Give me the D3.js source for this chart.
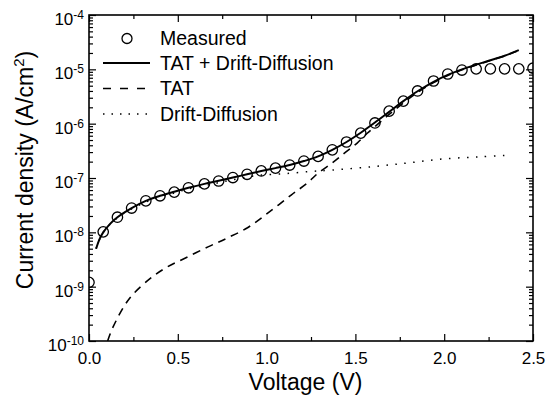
<!DOCTYPE html>
<html>
<head>
<meta charset="utf-8">
<script src="https://cdn.jsdelivr.net/npm/d3@7"></script>
<style>
  body { margin: 0; background: #fff; }
  svg { display: block; font-family: "Liberation Sans", Arial, sans-serif; }
</style>
</head>
<body>
<svg id="chart" width="547" height="398"></svg>
<script>
// measured J-V points
const voltage = [0.00, 0.08, 0.16, 0.24, 0.32, 0.40, 0.48, 0.56, 0.65, 0.73, 0.81, 0.89, 0.97, 1.05, 1.13, 1.21,
                 1.29, 1.37, 1.45, 1.53, 1.61, 1.69, 1.77, 1.85, 1.94, 2.02, 2.10, 2.18, 2.26, 2.34, 2.42, 2.50];
const measured = [1.2e-9, 1.02e-8, 1.9e-8, 2.8e-8, 3.8e-8, 4.7e-8, 5.5e-8, 6.6e-8, 7.8e-8, 8.8e-8, 1.02e-7, 1.17e-7,
                  1.35e-7, 1.52e-7, 1.73e-7, 2.05e-7, 2.5e-7, 3.3e-7, 4.6e-7, 6.7e-7, 1.03e-6, 1.7e-6, 2.6e-6,
                  4.0e-6, 6.1e-6, 8.2e-6, 9.7e-6, 1.02e-5, 1.02e-5, 1.02e-5, 1.02e-5, 1.05e-5];

// TAT + Drift-Diffusion fit
const fitV = [0.04, 0.06, 0.08, 0.12, 0.16, 0.24, 0.32, 0.40, 0.48, 0.56, 0.65, 0.73, 0.81, 0.89, 0.97, 1.05, 1.13,
              1.21, 1.29, 1.37, 1.45, 1.53, 1.61, 1.69, 1.77, 1.85, 1.94, 2.02, 2.10, 2.18, 2.26, 2.34, 2.42];
const fitJ = [5.0e-9, 7.6e-9, 1.0e-8, 1.45e-8, 1.9e-8, 2.8e-8, 3.8e-8, 4.7e-8, 5.6e-8, 6.6e-8, 7.8e-8, 8.9e-8,
              1.02e-7, 1.17e-7, 1.34e-7, 1.52e-7, 1.74e-7, 2.05e-7, 2.5e-7, 3.3e-7, 4.6e-7, 6.8e-7, 1.05e-6,
              1.65e-6, 2.6e-6, 3.95e-6, 5.9e-6, 7.9e-6, 1.0e-5, 1.22e-5, 1.47e-5, 1.78e-5, 2.25e-5];

// TAT only
const tatV = [0.105, 0.135, 0.23, 0.355, 0.44, 0.52, 0.67, 0.78, 0.895, 1.01, 1.14, 1.23, 1.29, 1.37, 1.44, 1.51,
              1.565, 1.61, 1.69, 1.77, 1.85, 1.94, 2.02, 2.10, 2.18, 2.26, 2.34, 2.42];
const tatJ = [1.0e-10, 1.8e-10, 6.2e-10, 1.5e-9, 2.3e-9, 3.1e-9, 5.4e-9, 7.9e-9, 1.23e-8, 2.3e-8, 4.9e-8, 8.1e-8,
              1.23e-7, 1.9e-7, 2.9e-7, 4.4e-7, 6.6e-7, 8.8e-7, 1.48e-6, 2.4e-6, 3.75e-6, 5.7e-6, 7.7e-6, 9.8e-6,
              1.2e-5, 1.45e-5, 1.76e-5, 2.23e-5];

// Drift-Diffusion only
const ddV = [0.04, 0.08, 0.16, 0.24, 0.32, 0.40, 0.48, 0.56, 0.65, 0.73, 0.81, 0.89, 0.97, 1.10, 1.25, 1.37, 1.60,
             1.80, 2.00, 2.20, 2.38];
const ddJ = [5.0e-9, 1.0e-8, 1.85e-8, 2.7e-8, 3.6e-8, 4.5e-8, 5.3e-8, 6.3e-8, 7.2e-8, 8.2e-8, 9.3e-8, 1.04e-7,
             1.13e-7, 1.2e-7, 1.32e-7, 1.4e-7, 1.62e-7, 1.9e-7, 2.25e-7, 2.45e-7, 2.65e-7];

const xMajor = [0, 0.5, 1.0, 1.5, 2.0, 2.5];
const xMinor = [0.25, 0.75, 1.25, 1.75, 2.25];
const yExponents = [-10, -9, -8, -7, -6, -5, -4];

const legendItems = ["Measured", "TAT + Drift-Diffusion", "TAT", "Drift-Diffusion"];

const svg = d3.select("#chart");
const margin = {top: 15, right: 14, bottom: 57, left: 89};
const W = 547, H = 398;
const plotW = W - margin.left - margin.right;
const plotH = H - margin.top - margin.bottom;

const x = d3.scaleLinear().domain([0, 2.5]).range([0, plotW]);
const y = d3.scaleLog().domain([1e-10, 1e-4]).range([plotH, 0]);

const g = svg.append("g").attr("transform", `translate(${margin.left},${margin.top})`);

svg.append("defs").append("clipPath").attr("id", "clip")
  .append("rect").attr("width", plotW).attr("height", plotH);

// minor log ticks (2..9 in each decade)
const yMinor = y.ticks().filter(v => Math.abs(Math.log10(v) - Math.round(Math.log10(v))) > 1e-6);
const yMajorVals = yExponents.map(e => Math.pow(10, e));

function styleAxis(sel) {
  sel.select(".domain").remove();
  sel.selectAll("line").attr("stroke", "#000").attr("stroke-width", 1.2);
}

// bottom
g.append("g").attr("transform", `translate(0,${plotH})`)
  .call(d3.axisBottom(x).tickValues(xMajor).tickSizeInner(-7).tickSizeOuter(0).tickPadding(11)
    .tickFormat(d3.format(".1f")))
  .call(styleAxis)
  .call(a => a.selectAll("text").attr("font-size", 17).attr("fill", "#000")
    .attr("font-family", "Liberation Sans, Arial, sans-serif"));
g.append("g").attr("transform", `translate(0,${plotH})`)
  .call(d3.axisBottom(x).tickValues(xMinor).tickSizeInner(-4).tickSizeOuter(0).tickFormat(""))
  .call(styleAxis);

// top
g.append("g")
  .call(d3.axisTop(x).tickValues(xMajor).tickSizeInner(-7).tickSizeOuter(0).tickFormat(""))
  .call(styleAxis);
g.append("g")
  .call(d3.axisTop(x).tickValues(xMinor).tickSizeInner(-4).tickSizeOuter(0).tickFormat(""))
  .call(styleAxis);

// left
g.append("g")
  .call(d3.axisLeft(y).tickValues(yMajorVals).tickSizeInner(-7).tickSizeOuter(0).tickFormat(""))
  .call(styleAxis);
g.append("g")
  .call(d3.axisLeft(y).tickValues(yMinor).tickSizeInner(-4).tickSizeOuter(0).tickFormat(""))
  .call(styleAxis);

// right
g.append("g").attr("transform", `translate(${plotW},0)`)
  .call(d3.axisRight(y).tickValues(yMajorVals).tickSizeInner(-7).tickSizeOuter(0).tickFormat(""))
  .call(styleAxis);
g.append("g").attr("transform", `translate(${plotW},0)`)
  .call(d3.axisRight(y).tickValues(yMinor).tickSizeInner(-4).tickSizeOuter(0).tickFormat(""))
  .call(styleAxis);

// y tick labels 10^n
yExponents.forEach(e => {
  const t = g.append("text")
    .attr("x", -5)
    .attr("y", y(Math.pow(10, e)) + 10)
    .attr("text-anchor", "end")
    .attr("font-size", 17)
    .attr("fill", "#000");
  t.append("tspan").text("10");
  t.append("tspan").attr("font-size", 12).attr("dy", -6).text(String(e));
});

// frame
g.append("rect").attr("width", plotW).attr("height", plotH)
  .attr("fill", "none").attr("stroke", "#000").attr("stroke-width", 1.6);

// curves
const line = d3.line()
  .x(d => x(d[0]))
  .y(d => y(d[1]))
  .curve(d3.curveCatmullRom);

const plot = g.append("g").attr("clip-path", "url(#clip)");

plot.append("path")
  .datum(ddV.map((v, i) => [v, ddJ[i]]))
  .attr("d", line)
  .attr("fill", "none").attr("stroke", "#000").attr("stroke-width", 1.5)
  .attr("stroke-dasharray", "1.5,7.5");

plot.append("path")
  .datum(tatV.map((v, i) => [v, tatJ[i]]))
  .attr("d", line)
  .attr("fill", "none").attr("stroke", "#000").attr("stroke-width", 1.6)
  .attr("stroke-dasharray", "8,6");

plot.append("path")
  .datum(fitV.map((v, i) => [v, fitJ[i]]))
  .attr("d", line)
  .attr("fill", "none").attr("stroke", "#000").attr("stroke-width", 2);

plot.selectAll("circle.meas")
  .data(voltage.map((v, i) => [v, measured[i]]))
  .join("circle")
  .attr("class", "meas")
  .attr("cx", d => x(d[0]))
  .attr("cy", d => y(d[1]))
  .attr("r", 5.2)
  .attr("fill", "none").attr("stroke", "#000").attr("stroke-width", 1.3);

// legend
const leg = svg.append("g");
const rowY = [38.5, 63, 88.5, 114];
leg.append("circle").attr("cx", 127).attr("cy", rowY[0]).attr("r", 5)
  .attr("fill", "none").attr("stroke", "#000").attr("stroke-width", 1.3);
leg.append("line").attr("x1", 103).attr("x2", 150).attr("y1", rowY[1]).attr("y2", rowY[1])
  .attr("stroke", "#000").attr("stroke-width", 2);
leg.append("line").attr("x1", 103).attr("x2", 150).attr("y1", rowY[2]).attr("y2", rowY[2])
  .attr("stroke", "#000").attr("stroke-width", 1.6).attr("stroke-dasharray", "8,9");
leg.append("line").attr("x1", 103).attr("x2", 150).attr("y1", rowY[3]).attr("y2", rowY[3])
  .attr("stroke", "#000").attr("stroke-width", 1.5).attr("stroke-dasharray", "1.5,7");
legendItems.forEach((name, i) => {
  leg.append("text").attr("x", 160).attr("y", rowY[i] + 6.5)
    .attr("font-size", 19.5).attr("fill", "#000").text(name);
});

// axis titles
svg.append("text").attr("x", 305.5).attr("y", 390)
  .attr("text-anchor", "middle").attr("font-size", 23).attr("fill", "#000")
  .text("Voltage (V)");

const yt = svg.append("text")
  .attr("transform", "translate(33,170) rotate(-90)")
  .attr("text-anchor", "middle").attr("font-size", 23).attr("fill", "#000");
yt.append("tspan").text("Current density (A/cm");
yt.append("tspan").attr("font-size", 15).attr("dy", -9).text("2");
yt.append("tspan").attr("dy", 9).text(")");
</script>
</body>
</html>
